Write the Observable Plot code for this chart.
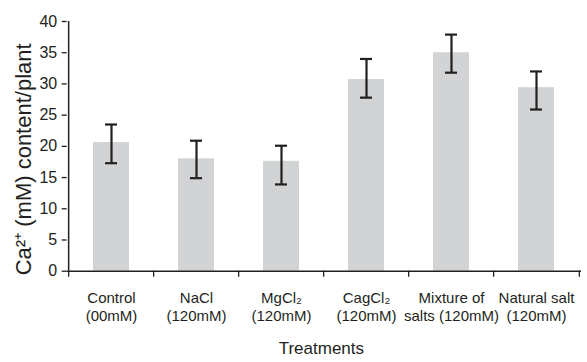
<!DOCTYPE html>
<html>
<head>
<meta charset="utf-8">
<script src="https://cdn.jsdelivr.net/npm/d3@7"></script>
<script src="https://cdn.jsdelivr.net/npm/@observablehq/plot@0.6"></script>
<style>
  html, body { margin: 0; padding: 0; background: #fff; }
</style>
</head>
<body>
<div id="chart"></div>
<script>
// ---- data ----
const categories = [
  "Control\n(00mM)",
  "NaCl\n(120mM)",
  "MgCl\u2082\n(120mM)",
  "CagCl\u2082\n(120mM)",
  "Mixture of\nsalts (120mM)",
  "Natural salt\n(120mM)"
];
const values  = [20.6, 18.0, 17.6, 30.7, 35.0, 29.4];
const errLow  = [17.3, 14.9, 13.9, 27.8, 31.8, 25.9];
const errHigh = [23.5, 20.9, 20.1, 34.0, 37.9, 32.0];
const yTicks  = [0, 5, 10, 15, 20, 25, 30, 35, 40];
const yLabel  = "Ca\u00B2\u207A (mM) content/plant";
const xLabel  = "Treatments";

// ---- layout ----
const W = 587, H = 362;
const mL = 66.7, mR = 6, mT = 21, mB = 91.3;
const step = (W - mL - mR) / categories.length;
const ink = "#231f20";
const font = "'Liberation Sans', Arial, Helvetica, sans-serif";

const rows = categories.map((c, i) => ({c, v: values[i], lo: errLow[i], hi: errHigh[i]}));

const chart = Plot.plot({
  width: W,
  height: H,
  marginLeft: mL,
  marginRight: mR,
  marginTop: mT,
  marginBottom: mB,
  style: {fontFamily: font, color: ink, background: "#fff", overflow: "visible"},
  x: {domain: categories, paddingInner: 0.575, paddingOuter: 0.2875, axis: null},
  y: {domain: [0, 40], axis: null},
  marks: [
    Plot.barY(rows, {x: "c", y: "v", fill: "#d1d3d4"}),
    Plot.ruleX(rows, {x: "c", y1: "lo", y2: "hi", stroke: ink, strokeWidth: 2.2}),
    Plot.tickY(rows, {x: "c", y: "lo", stroke: ink, strokeWidth: 2.2, insetLeft: 12, insetRight: 12}),
    Plot.tickY(rows, {x: "c", y: "hi", stroke: ink, strokeWidth: 2.2, insetLeft: 12, insetRight: 12}),
    // axis lines
    Plot.ruleY([0], {stroke: ink, strokeWidth: 1.5}),
    Plot.ruleX([categories[0]], {y1: 0, y2: 40, dx: -step / 2, stroke: ink, strokeWidth: 1.5}),
    // y axis
    Plot.axisY({ticks: yTicks, tickSize: 5, tickPadding: 5, fontSize: 16, label: null, stroke: ink, strokeWidth: 1.3}),
    // x tick labels
    Plot.axisX({tickSize: 0, tickPadding: 19, fontSize: 15, lineHeight: 1.2, label: null}),
    // x boundary ticks
    Plot.axisX({ticks: categories, tickSize: 6, tickFormat: () => "", dx: -step / 2, label: null, strokeWidth: 1.3}),
    Plot.axisX({ticks: [categories[categories.length - 1]], tickSize: 6, tickFormat: () => "", dx: step / 2, label: null, strokeWidth: 1.3}),
    // axis titles
    Plot.text([xLabel], {frameAnchor: "bottom", dx: -3, dy: 77, fontSize: 17, lineAnchor: "middle", fill: ink}),
    Plot.text([yLabel], {frameAnchor: "left", rotate: -90, dx: -43, dy: 13, fontSize: 22, textAnchor: "middle", lineAnchor: "middle", fill: ink})
  ]
});
document.getElementById("chart").appendChild(chart);
</script>
</body>
</html>
